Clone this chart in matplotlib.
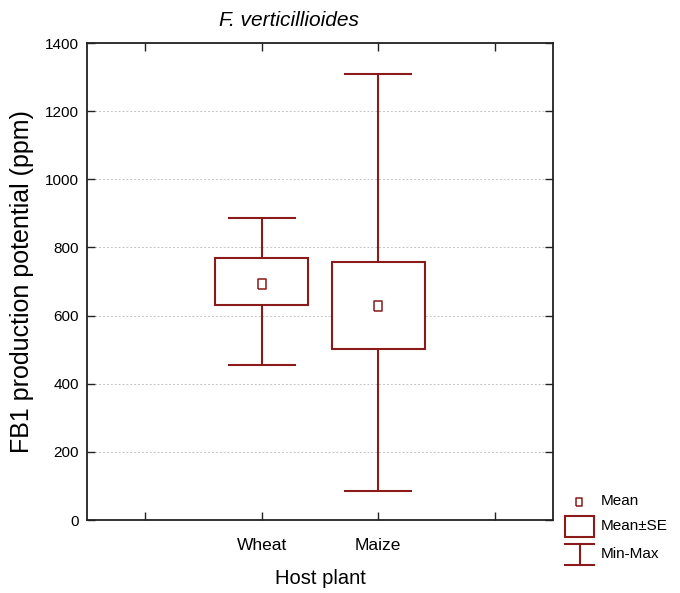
import matplotlib.pyplot as plt
from matplotlib.patches import Rectangle

plt.rcParams['font.family'] = ['Liberation Sans', 'DejaVu Sans']

# ---------------------------------------------------------
# data
# ---------------------------------------------------------
hosts = ['Wheat', 'Maize']
means = [694, 627]
se_low = [630, 502]
se_high = [768, 758]
mins = [456, 86]
maxs = [886, 1310]
yticks = [0, 200, 400, 600, 800, 1000, 1200, 1400]

RED = '#8B1A1A'
pos = [2, 3]

fig = plt.figure(figsize=(6.8, 5.93), dpi=100)
ax = fig.add_axes([87 / 680, 1 - 520 / 593, (553 - 87) / 680, (520 - 43) / 593])

# min-max whiskers
ax.vlines(pos, mins, maxs, color=RED, lw=1.5, zorder=2)
ax.hlines(mins, [p - 0.29 for p in pos], [p + 0.29 for p in pos], color=RED, lw=1.5, zorder=2)
ax.hlines(maxs, [p - 0.29 for p in pos], [p + 0.29 for p in pos], color=RED, lw=1.5, zorder=2)

# mean +- SE boxes
heights = [h - l for h, l in zip(se_high, se_low)]
ax.bar(pos, heights, bottom=se_low, width=0.8, facecolor='white',
       edgecolor=RED, linewidth=1.5, zorder=3)

# mean markers
rect_marker = [(-0.35, -0.5), (0.35, -0.5), (0.35, 0.5), (-0.35, 0.5), (-0.35, -0.5)]
ax.plot(pos, means, linestyle='none', marker=rect_marker, markersize=7.5,
        markerfacecolor='white', markeredgecolor=RED, markeredgewidth=1.1, zorder=4)

ax.set_xlim(0.5, 4.5)
ax.set_ylim(0, 1400)
ax.set_xticks([1, 2, 3, 4])
ax.set_xticklabels(['', hosts[0], hosts[1], ''], fontsize=12.5)
ax.set_yticks(yticks)
ax.set_yticklabels([str(t) for t in yticks], fontsize=11)
ax.tick_params(direction='in', length=6, width=1, top=True, right=True, color='#222222', pad=6)
ax.tick_params(axis='x', pad=13)
ax.yaxis.grid(True, linestyle=(0, (2, 2)), color='#c4c4c4', lw=0.7)
ax.set_axisbelow(True)
for s in ax.spines.values():
    s.set_linewidth(1.3)
    s.set_color('#222222')

ax.set_xlabel('Host plant', fontsize=14.5)
ax.xaxis.set_label_coords(0.5, (520 - 578) / 477, transform=ax.transAxes)
ax.xaxis.label.set_va('center')
ax.set_ylabel('FB1 production potential (ppm)', fontsize=18)
ax.yaxis.set_label_coords((22 - 87) / 466, 0.5, transform=ax.transAxes)
ax.yaxis.label.set_va('center')
fig.text(289 / 680, 1 - 20 / 593, 'F. verticillioides', fontsize=15, style='italic',
         ha='center', va='center')

# legend drawn in pixel coords on a small axes
lg = fig.add_axes([560 / 680, 1 - 572 / 593, 120 / 680, 77 / 593])
lg.set_xlim(560, 680)
lg.set_ylim(572, 495)
lg.axis('off')
lg.plot([579], [502], linestyle='none', marker=rect_marker, markersize=5.5,
        markerfacecolor='white', markeredgecolor=RED, markeredgewidth=1.1)
lg.add_patch(Rectangle((565, 516), 29, 21, facecolor='white', edgecolor=RED, lw=1.5))
lg.plot([565, 594], [544, 544], color=RED, lw=1.5)
lg.plot([565, 594], [565, 565], color=RED, lw=1.5)
lg.plot([579.5, 579.5], [544, 565], color=RED, lw=1.5)
for ty, txt in zip([501, 526, 554], ['Mean', 'Mean±SE', 'Min-Max']):
    lg.text(601, ty, txt, fontsize=11, va='center', ha='left')

fig.savefig('out.png', dpi=100)
